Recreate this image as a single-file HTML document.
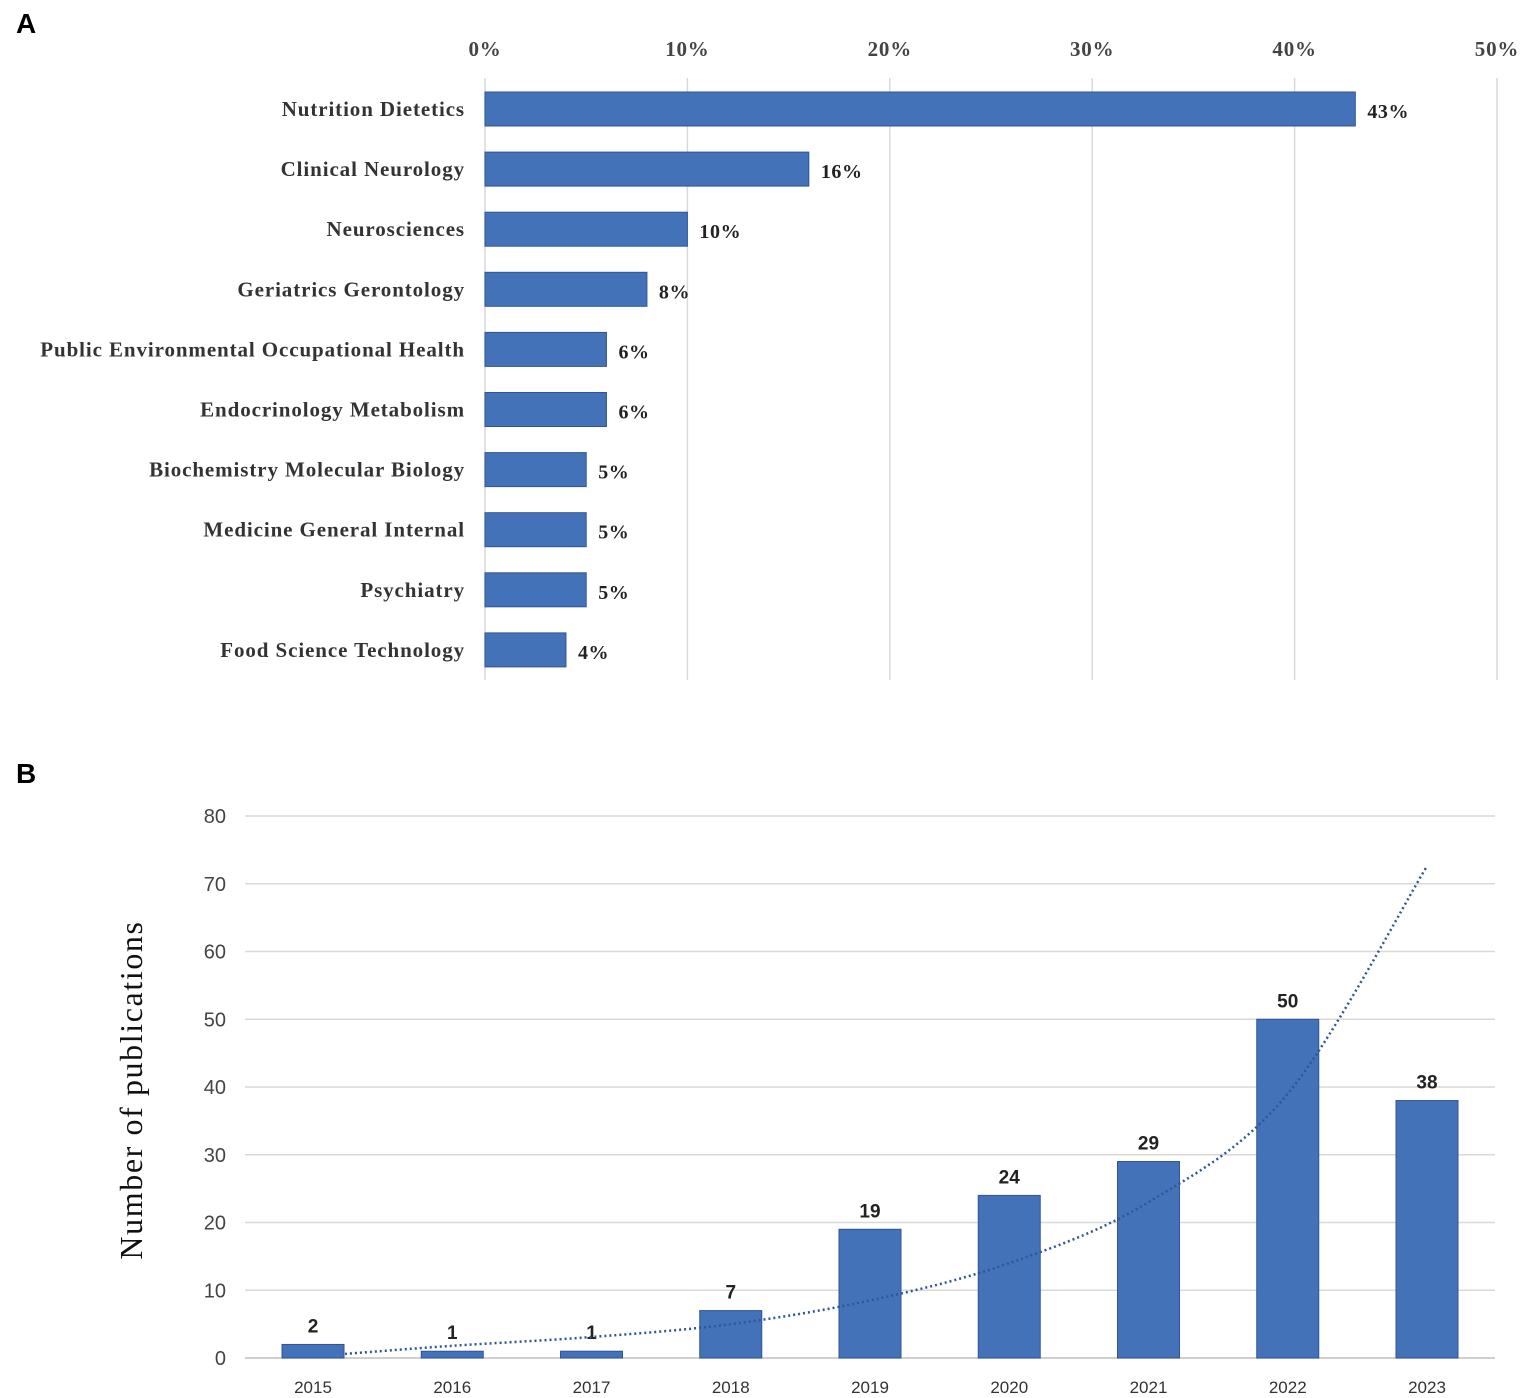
<!DOCTYPE html>
<html><head><meta charset="utf-8"><style>
html,body{margin:0;padding:0;background:#fff;}
svg{display:block;}
</style></head><body>
<svg id="chart" width="1524" height="1398" xmlns="http://www.w3.org/2000/svg">
<text x="16" y="33" font-family="Liberation Sans, sans-serif" font-weight="bold" font-size="28">A</text>
<text x="16" y="783" font-family="Liberation Sans, sans-serif" font-weight="bold" font-size="28">B</text>
<g id="ga"></g>
<g id="gb"></g>
<text transform="translate(142,1090) rotate(-90)" text-anchor="middle" font-family="Liberation Serif, serif" font-size="32" letter-spacing="1.6" fill="#111">Number of publications</text>
</svg>
<script>
const catsA=["Nutrition Dietetics","Clinical Neurology","Neurosciences","Geriatrics Gerontology","Public Environmental Occupational Health","Endocrinology Metabolism","Biochemistry Molecular Biology","Medicine General Internal","Psychiatry","Food Science Technology"];
const valsA=[43,16,10,8,6,6,5,5,5,4];
const ticksA=[0,10,20,30,40,50];
const yearsB=["2015","2016","2017","2018","2019","2020","2021","2022","2023"];
const valsB=[2,1,1,7,19,24,29,50,38];
const trendB=[0.6,1.8,3.1,5,8.5,14,23,39,72.6];
const ticksB=[0,10,20,30,40,50,60,70,80];
const NS="http://www.w3.org/2000/svg";
function mk(p,t,a,txt){const e=document.createElementNS(NS,t);for(const k in a)e.setAttribute(k,a[k]);if(txt!==undefined)e.textContent=txt;p.appendChild(e);return e;}
// Chart A
const ga=document.getElementById('ga');
const xA=v=>485+v*20.24;
const yA=i=>109+i*60.1;
ticksA.forEach(t=>{
  const l=mk(ga,'line',{x1:xA(t),x2:xA(t),y1:78,y2:680,stroke:'#d9d9d9','stroke-width':1.5});
  
  
  const tx=mk(ga,'text',{x:xA(t),y:56,'text-anchor':'middle','font-family':'Liberation Serif, serif','font-weight':'bold','font-size':21,'letter-spacing':0.8,fill:'#444'},t+'%');
  
  
});
catsA.forEach((c,i)=>{
  const r=mk(ga,'rect',{x:xA(0),y:yA(i)-17,width:xA(valsA[i])-xA(0),height:34,fill:'#4472b9',stroke:'#2f5597','stroke-width':1});
  
  
  const lb=mk(ga,'text',{x:465,y:yA(i)+7,'text-anchor':'end','font-family':'Liberation Serif, serif','font-weight':'bold','font-size':21,'letter-spacing':0.9,fill:'#333'},c);
  
  
  const vl=mk(ga,'text',{x:xA(valsA[i])+12,y:yA(i)+9,'font-family':'Liberation Serif, serif','font-weight':'bold','font-size':20,'letter-spacing':0.6,fill:'#222'},valsA[i]+'%');
  
  
});
// Chart B
const gb=document.getElementById('gb');
const yB=v=>1358-v*6.775;
const xB=i=>313+i*139.25;
ticksB.forEach(t=>{
  const l=mk(gb,'line',{x1:245,x2:1495,y1:yB(t),y2:yB(t),stroke:t===0?'#bfbfbf':'#d9d9d9','stroke-width':1.5});
  
  
  const tx=mk(gb,'text',{x:226,y:yB(t)+7,'text-anchor':'end','font-family':'Liberation Sans Narrow, Liberation Sans, sans-serif','font-size':20,fill:'#444'},t);
  
  
});
yearsB.forEach((y,i)=>{
  const r=mk(gb,'rect',{x:xB(i)-31,y:yB(valsB[i]),width:62,height:yB(0)-yB(valsB[i]),fill:'#4472b9',stroke:'#2f5597','stroke-width':1});
  
  
  const tx=mk(gb,'text',{x:xB(i),y:1393,'text-anchor':'middle','font-family':'Liberation Sans Narrow, Liberation Sans, sans-serif','font-size':17,fill:'#333'},y);
  
  
  const vl=mk(gb,'text',{x:xB(i),y:yB(valsB[i])-12,'text-anchor':'middle','font-family':'Liberation Sans Narrow, Liberation Sans, sans-serif','font-weight':'bold','font-size':19,fill:'#222'},valsB[i]);
  
  
});
// smooth trend (Catmull-Rom)
const pts=trendB.map((v,i)=>[i===0?xB(0)+32:xB(i),yB(v)]);
let d='M'+pts[0][0]+','+pts[0][1];
for(let i=0;i<pts.length-1;i++){
  const p0=pts[Math.max(0,i-1)],p1=pts[i],p2=pts[i+1],p3=pts[Math.min(pts.length-1,i+2)];
  const c1=[p1[0]+(p2[0]-p0[0])/6,p1[1]+(p2[1]-p0[1])/6];
  const c2=[p2[0]-(p3[0]-p1[0])/6,p2[1]-(p3[1]-p1[1])/6];
  d+='C'+c1[0]+','+c1[1]+' '+c2[0]+','+c2[1]+' '+p2[0]+','+p2[1];
}
const tp=mk(gb,'path',{d:d,fill:'none',stroke:'#2f5597','stroke-width':2.5,'stroke-dasharray':'2 3'});


</script>
</body></html>
